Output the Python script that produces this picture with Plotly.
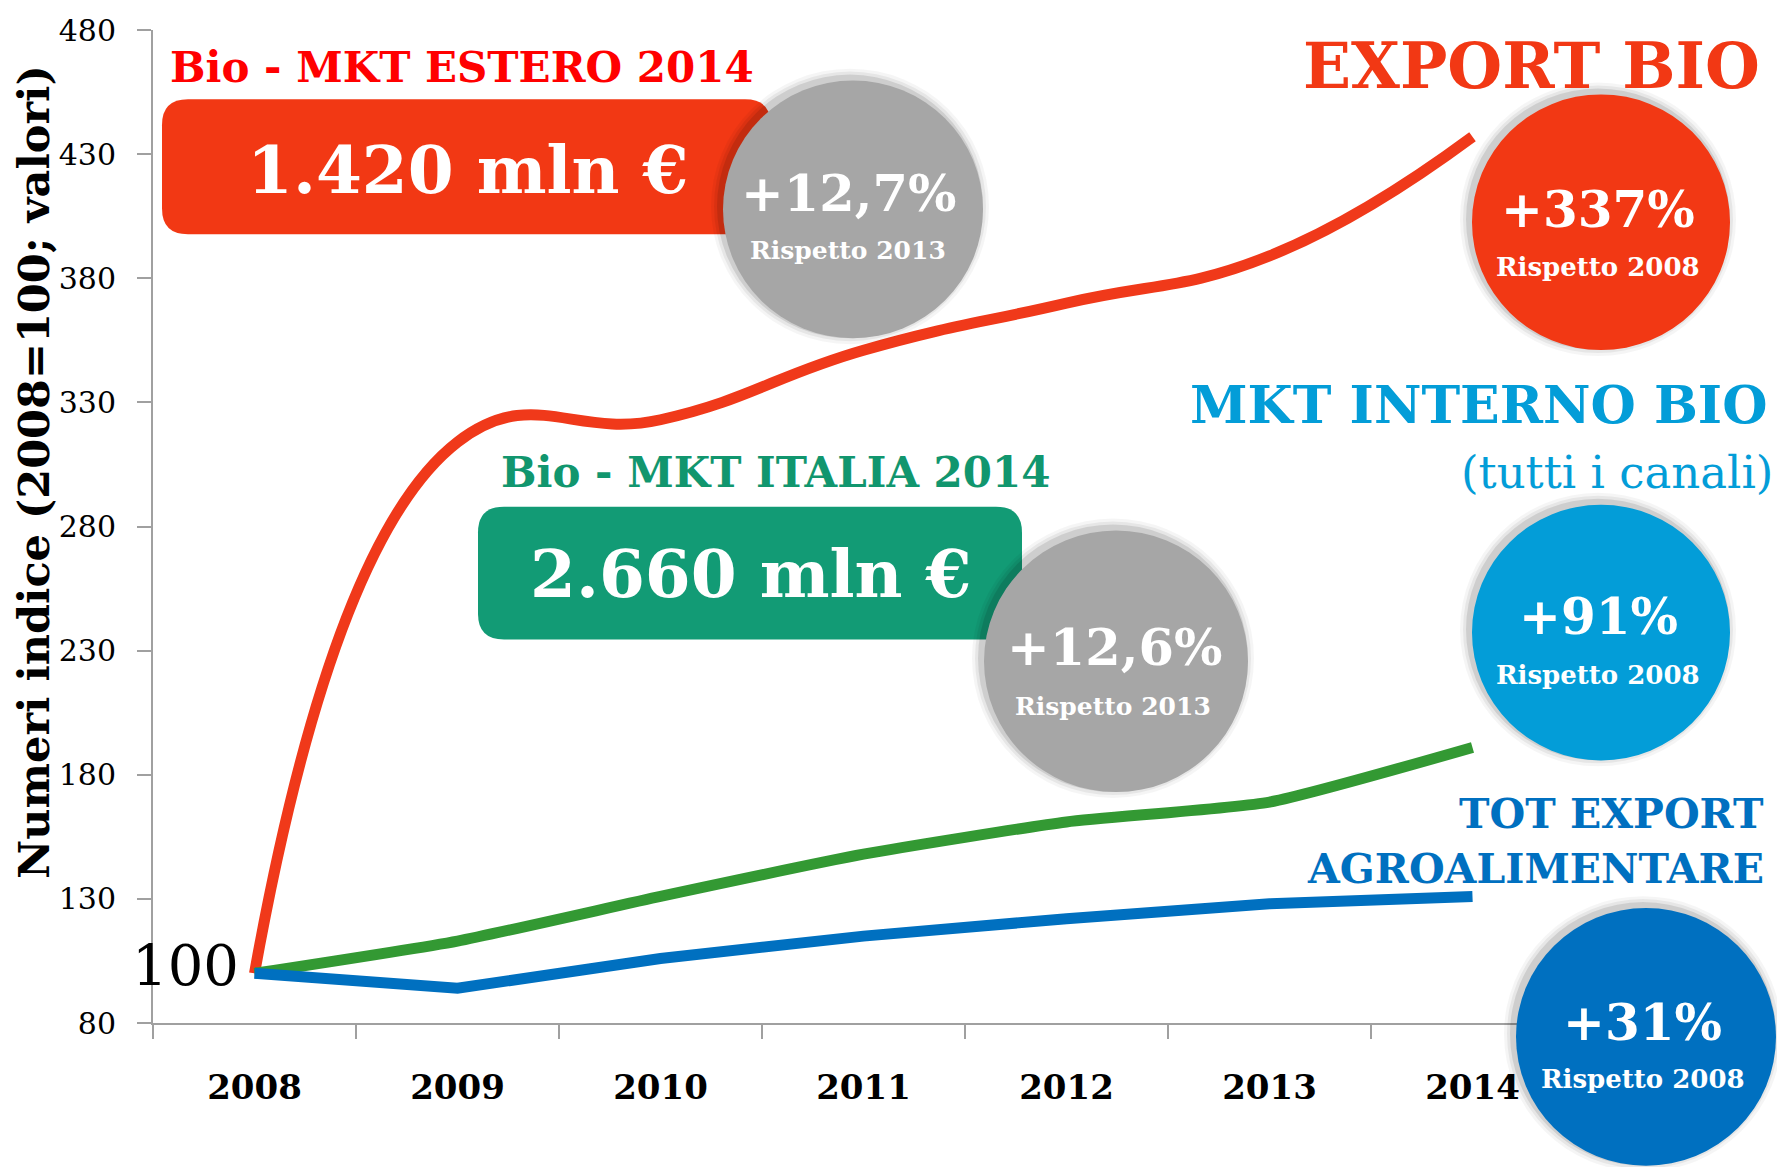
import plotly.graph_objects as go

# ── Data ──────────────────────────────────────────────────────────────────────
YEARS = ["2008", "2009", "2010", "2011", "2012", "2013", "2014"]
EXPORT_BIO = [100, 314, 323, 351, 370, 389, 437]
MKT_INTERNO = [100, 113, 131, 148, 161, 169, 191]
TOT_EXPORT = [100, 94, 106, 115, 122, 128, 131]
Y_TICKS = [80, 130, 180, 230, 280, 330, 380, 430, 480]

# ── Colours / fonts ───────────────────────────────────────────────────────────
RED = "#F0391A"
RED_BOX = "#F23814"
GREEN_LINE = "#339933"
GREEN_BOX = "#129B75"
GREEN_TXT = "#11966E"
BLUE = "#0070C0"
LIGHT_BLUE = "#039DD8"
GREY = "#A6A6A6"
AXIS = "#A0A0A0"
SERIF = "DejaVu Serif"

W, H = 1777, 1167
L, R, T, B = 153, 1574, 21, 1023   # plot area in pixels


def px(x):
    return (x - L) / (R - L)


def py(y):
    return (B - y) / (B - T)


fig = go.Figure()

fig.add_trace(go.Scatter(x=YEARS, y=EXPORT_BIO, mode="lines",
                         line=dict(color=RED, width=11, shape="spline", smoothing=1.3)))
fig.add_trace(go.Scatter(x=YEARS, y=MKT_INTERNO, mode="lines",
                         line=dict(color=GREEN_LINE, width=11, shape="spline", smoothing=0.5)))
fig.add_trace(go.Scatter(x=YEARS, y=TOT_EXPORT, mode="lines",
                         line=dict(color=BLUE, width=11)))

shapes = []


def rounded_box(x0, y0, x1, y1, rad, color):
    X0, X1 = px(x0), px(x1)
    Y0, Y1 = py(y0), py(y1)
    rx = rad / (R - L)
    ry = rad / (B - T)
    path = (f"M {X0 + rx},{Y0} L {X1 - rx},{Y0} Q {X1},{Y0} {X1},{Y0 - ry} "
            f"L {X1},{Y1 + ry} Q {X1},{Y1} {X1 - rx},{Y1} "
            f"L {X0 + rx},{Y1} Q {X0},{Y1} {X0},{Y1 + ry} "
            f"L {X0},{Y0 - ry} Q {X0},{Y0} {X0 + rx},{Y0} Z")
    shapes.append(dict(type="path", xref="paper", yref="paper", path=path,
                       fillcolor=color, line=dict(width=0), layer="above"))


def circle(cx, cy, r, color, shadow=True):
    if shadow:
        for grow, op in [(9, 0.04), (6, 0.06), (3, 0.10)]:
            sx, sy = cx - 3, cy - 3
            shapes.append(dict(type="circle", xref="paper", yref="paper",
                               x0=px(sx - r - grow), x1=px(sx + r + grow),
                               y0=py(sy + r + grow), y1=py(sy - r - grow),
                               fillcolor=f"rgba(0,0,0,{op})", line=dict(width=0),
                               layer="above"))
    shapes.append(dict(type="circle", xref="paper", yref="paper",
                       x0=px(cx - r), x1=px(cx + r), y0=py(cy + r), y1=py(cy - r),
                       fillcolor=color, line=dict(width=0), layer="above"))


rounded_box(162, 91, 771, 227, 26, RED_BOX)
circle(853, 202, 130, GREY)
rounded_box(478, 502, 1022, 636, 26, GREEN_BOX)
circle(1116, 658, 132, GREY)
circle(1601, 215, 129, RED_BOX)
circle(1601, 629, 129, LIGHT_BLUE)
circle(1646, 1037, 130, BLUE)

annotations = []


def label(text, x, y, size, color, anchor="center", bold=True, angle=0):
    annotations.append(dict(
        text=text, x=px(x), y=py(y), xref="paper", yref="paper",
        xanchor=anchor, yanchor="middle", showarrow=False, textangle=angle,
        font=dict(family=SERIF, size=size, color=color,
                  weight="bold" if bold else "normal")))


# left boxes
label("Bio - MKT ESTERO 2014", 168, 59, 42, "#FF0000", anchor="left")
label("1.420 mln €", 467, 162, 66, "white")
label("+12,7%", 848, 185, 51, "white")
label("Rispetto 2013", 848, 244, 25, "white")

label("Bio - MKT ITALIA 2014", 499, 468, 42, GREEN_TXT, anchor="left")
label("2.660 mln €", 750, 570, 66, "white")
label("+12,6%", 1114, 644, 51, "white")
label("Rispetto 2013", 1113, 704, 25, "white")

# right side
label("EXPORT BIO", 1762, 57, 63, RED_BOX, anchor="right")
label("+337%", 1598, 202, 50, "white")
label("Rispetto 2008", 1598, 260, 26, "white")

label("MKT INTERNO BIO", 1188, 399, 52, LIGHT_BLUE, anchor="left")
label("(tutti i canali)", 1775, 468, 45, LIGHT_BLUE, anchor="right", bold=False)
label("+91%", 1598, 613, 50, "white")
label("Rispetto 2008", 1598, 672, 26, "white")

label("TOT EXPORT", 1766, 812, 41, BLUE, anchor="right")
label("AGROALIMENTARE", 1766, 868, 41, BLUE, anchor="right")
label("+31%", 1643, 1022, 50, "white")
label("Rispetto 2008", 1643, 1080, 26, "white")

# "100" base label and y axis title
label("100", 185, 965, 56, "black", bold=False)
label("Numeri indice (2008=100; valori)", 34, 467, 43, "black", angle=-90)

fig.update_layout(
    width=W, height=H,
    margin=dict(l=L, r=W - R, t=T, b=H - B, pad=0),
    paper_bgcolor="white", plot_bgcolor="white",
    showlegend=False,
    shapes=shapes,
    annotations=annotations,
    xaxis=dict(
        type="category", range=[-0.5, 6.5],
        showgrid=False, zeroline=False,
        showline=True, linecolor=AXIS, linewidth=2,
        ticks="outside", tickson="boundaries", ticklen=14, tickcolor=AXIS, tickwidth=2,
        tickfont=dict(family=SERIF, size=34, color="black", weight="bold"),
        ticklabelstandoff=33,
    ),
    yaxis=dict(
        range=[80, 480], tickvals=Y_TICKS,
        showgrid=False, zeroline=False,
        showline=True, linecolor=AXIS, linewidth=2,
        ticks="outside", ticklen=14, tickcolor=AXIS, tickwidth=2,
        tickfont=dict(family=SERIF, size=30, color="black"),
        ticklabelstandoff=15,
    ),
)

fig.write_html("out.html",
               config={"displayModeBar": False},
               post_script="document.body.style.margin='0';"
                           "document.body.style.overflow='hidden';")
